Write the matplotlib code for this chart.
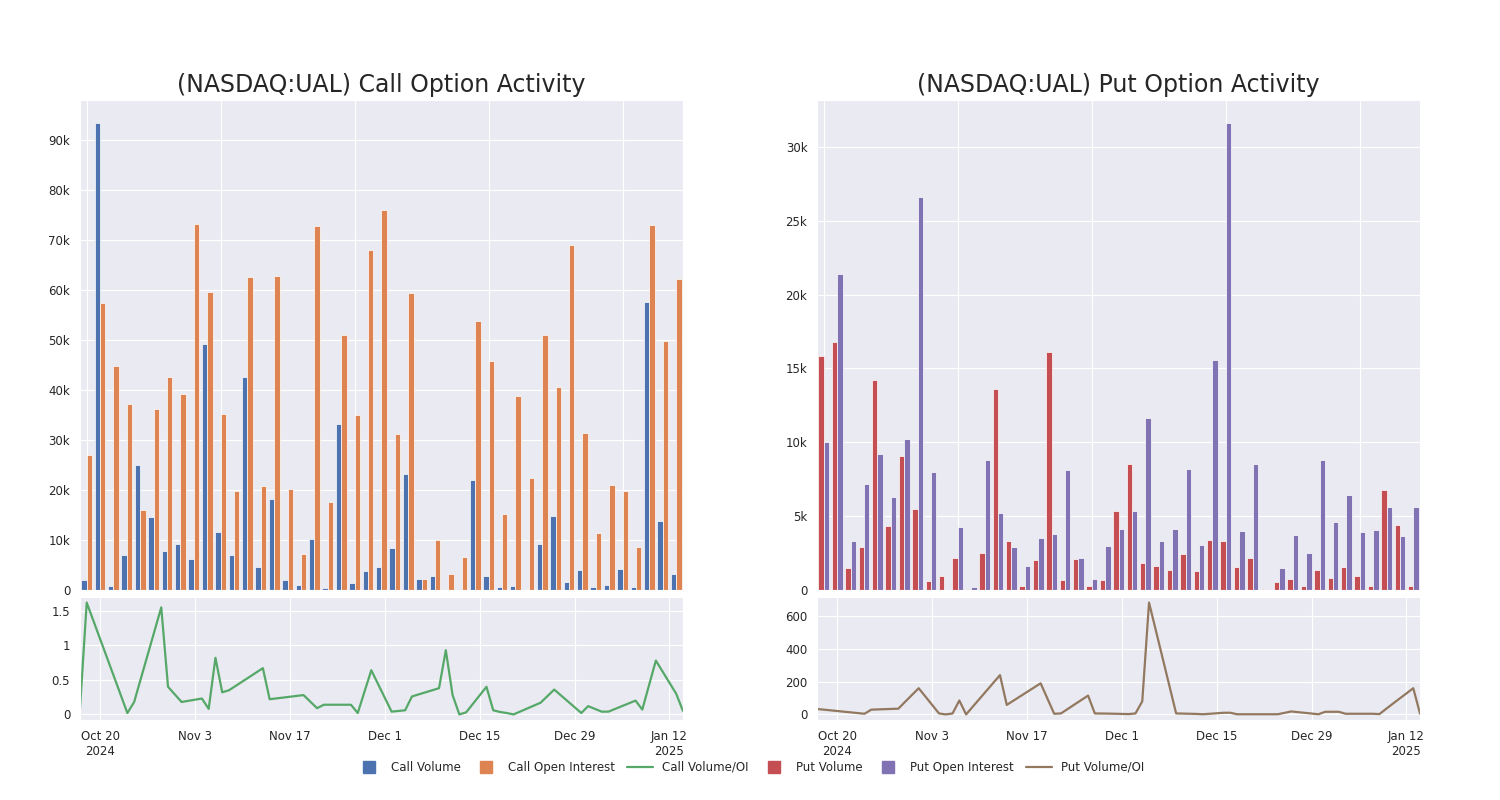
import matplotlib
matplotlib.use("Agg")
import matplotlib.pyplot as plt
from matplotlib.lines import Line2D
from matplotlib.ticker import FuncFormatter
import seaborn as sns
import pandas as pd
import numpy as np

dates = ["2024-10-17", "2024-10-18", "2024-10-24", "2024-10-25", "2024-10-29",
         "2024-10-30", "2024-11-01", "2024-11-04", "2024-11-05", "2024-11-06",
         "2024-11-07", "2024-11-08", "2024-11-13", "2024-11-14", "2024-11-19",
         "2024-11-21", "2024-11-22", "2024-11-26", "2024-11-27", "2024-11-29",
         "2024-12-02", "2024-12-03", "2024-12-04", "2024-12-05", "2024-12-09",
         "2024-12-10", "2024-12-11", "2024-12-12", "2024-12-13", "2024-12-16",
         "2024-12-17", "2024-12-18", "2024-12-19", "2024-12-20", "2024-12-24",
         "2024-12-26", "2024-12-30", "2024-12-31", "2025-01-02", "2025-01-03",
         "2025-01-07", "2025-01-08", "2025-01-10", "2025-01-13", "2025-01-14"]

# values in thousands of contracts
call_volume = [2.0, 93.3, 0.8, 6.9, 24.9, 14.6, 7.7, 9.2, 6.2, 49.1,
               11.5, 7.0, 42.5, 4.5, 18.1, 1.9, 1.0, 10.1, 0.3, 33.1,
               1.4, 3.7, 4.5, 8.3, 23.2, 2.1, 2.7, 0.0, 0.1, 22.0,
               2.7, 0.5, 0.7, 0.05, 9.1, 14.8, 1.5, 3.9, 0.5, 0.9,
               4.2, 0.5, 57.5, 13.7, 3.2]
call_oi = [27.0, 57.4, 44.8, 37.2, 15.9, 36.1, 42.6, 39.1, 73.1, 59.5,
           35.2, 19.7, 62.6, 20.7, 62.7, 20.1, 7.2, 72.7, 17.5, 50.9,
           35.0, 68.0, 75.9, 31.2, 59.3, 2.2, 9.9, 3.1, 6.5, 53.7,
           45.7, 15.1, 38.8, 22.3, 50.9, 40.5, 69.0, 31.3, 11.3, 20.9,
           19.7, 8.5, 72.9, 49.7, 62.1]
call_ratio = [0.08, 1.62, 0.02, 0.18, 1.55, 0.40, 0.18, 0.23, 0.08, 0.82,
              0.32, 0.35, 0.67, 0.22, 0.28, 0.09, 0.14, 0.14, 0.02, 0.64,
              0.04, 0.05, 0.06, 0.26, 0.38, 0.93, 0.28, 0.0, 0.03, 0.40,
              0.06, 0.035, 0.02, 0.0, 0.17, 0.36, 0.02, 0.12, 0.04, 0.04,
              0.20, 0.07, 0.78, 0.30, 0.05]

put_volume = [15.86, 16.8, 1.5, 2.9, 14.25, 4.3, 9.1, 5.5, 0.6, 0.93,
              2.15, 0.1, 2.5, 13.6, 3.3, 0.3, 2.0, 16.1, 0.7, 2.1,
              0.25, 0.7, 5.35, 8.5, 1.85, 1.6, 1.33, 2.44, 1.3, 3.4,
              3.34, 1.58, 2.15, 0.05, 0.52, 0.77, 0.27, 1.33, 0.8, 1.58,
              0.93, 0.27, 6.8, 4.4, 0.3]
put_oi = [10.0, 21.4, 3.3, 7.2, 9.24, 6.3, 10.2, 26.6, 8.0, 0.1,
          4.27, 0.2, 8.8, 5.2, 2.9, 1.65, 3.55, 3.8, 8.15, 2.2,
          0.75, 3.0, 4.15, 5.33, 11.65, 3.3, 4.1, 8.2, 3.07, 15.6,
          31.6, 4.0, 8.54, 0.1, 1.5, 3.75, 2.5, 8.8, 4.63, 6.4,
          3.95, 4.04, 5.65, 3.64, 5.6]
put_ratio = [33, 29, 4, 29, 35, 77, 160, 6, 0, 6,
             85, 0, 240, 58, 190, 4, 6, 115, 6, 5,
             2, 6, 80, 683, 6, 5, 4, 3, 1, 10,
             10, 1, 1, 1, 1, 18, 1, 16, 16, 4,
             4, 2, 66, 160, 4]

date_ticks = ["2024-10-20", "2024-11-03", "2024-11-17", "2024-12-01",
              "2024-12-15", "2024-12-29", "2025-01-12"]

colors = {"Call Volume": "#4C72B0", "Call Open Interest": "#DD8452",
          "Call Volume/OI": "#55A868", "Put Volume": "#C44E52",
          "Put Open Interest": "#8172B3", "Put Volume/OI": "#937860"}

sns.set_style("darkgrid")
plt.rcParams["font.family"] = ["DejaVu Sans"]
plt.rcParams["xtick.labelsize"] = 8.5
plt.rcParams["ytick.labelsize"] = 8.5

dates = pd.to_datetime(dates)
date_ticks = pd.to_datetime(date_ticks)


def date_labels(ticks):
    labels = []
    previous = None
    for tick in ticks:
        text = "{} {}".format(tick.strftime("%b"), tick.day)
        if previous is None or tick.year != previous.year:
            text += "\n{}".format(tick.year)
        labels.append(text)
        previous = tick
    return labels


def k_format(value, pos):
    if value == 0:
        return "0"
    return "{:g}k".format(value / 1000)


def draw_panel(left, title, volume, oi, ratio, names, yticks, ratio_ticks):
    ax_bar = fig.add_axes([left, 0.2625, 0.402, 0.6125])
    ax_line = fig.add_axes([left, 0.1, 0.402, 0.15375])
    x = np.arange(len(volume))
    ax_bar.bar(x - 0.2, np.array(volume) * 1000, width=0.4,
               color=colors[names[0]], edgecolor="white", linewidth=0.5)
    ax_bar.bar(x + 0.2, np.array(oi) * 1000, width=0.4,
               color=colors[names[1]], edgecolor="white", linewidth=0.5)
    ax_bar.set_xlim(-0.5, len(volume) - 0.5)
    top = max(max(volume), max(oi)) * 1000 * 1.05
    ax_bar.set_ylim(0, top)
    ax_bar.set_xticks(range(0, len(volume), 10))
    ax_bar.set_xticklabels([])
    ax_bar.set_yticks(yticks)
    ax_bar.yaxis.set_major_formatter(FuncFormatter(k_format))
    ax_bar.set_title(title, fontsize=17, color=".15")

    ax_line.plot(dates, ratio, color=colors[names[2]], linewidth=1.6)
    ax_line.set_xlim(dates[0], dates[-1])
    ax_line.set_xticks(date_ticks)
    ax_line.set_xticklabels(date_labels(date_ticks))
    ax_line.set_yticks(ratio_ticks)
    ax_line.yaxis.set_major_formatter(FuncFormatter(lambda v, p: "{:g}".format(v)))


fig = plt.figure(figsize=(15, 8), dpi=100)
draw_panel(0.0533, "(NASDAQ:UAL) Call Option Activity",
           call_volume, call_oi, call_ratio,
           ["Call Volume", "Call Open Interest", "Call Volume/OI"],
           range(0, 95000, 10000), [0, 0.5, 1, 1.5])
draw_panel(0.5447, "(NASDAQ:UAL) Put Option Activity",
           put_volume, put_oi, put_ratio,
           ["Put Volume", "Put Open Interest", "Put Volume/OI"],
           range(0, 31000, 5000), [0, 200, 400, 600])

handles = []
for name, color in colors.items():
    if name.endswith("/OI"):
        handles.append(Line2D([], [], color=color, linewidth=1.6, label=name))
    else:
        handles.append(Line2D([], [], color=color, marker="s", linestyle="",
                              markersize=8, label=name))
fig.legend(handles=handles, loc="center", bbox_to_anchor=(0.5, 0.041),
           ncol=6, frameon=False, fontsize=8.5, handlelength=2.2,
           columnspacing=1.0)

fig.savefig("out.png", dpi=100)
